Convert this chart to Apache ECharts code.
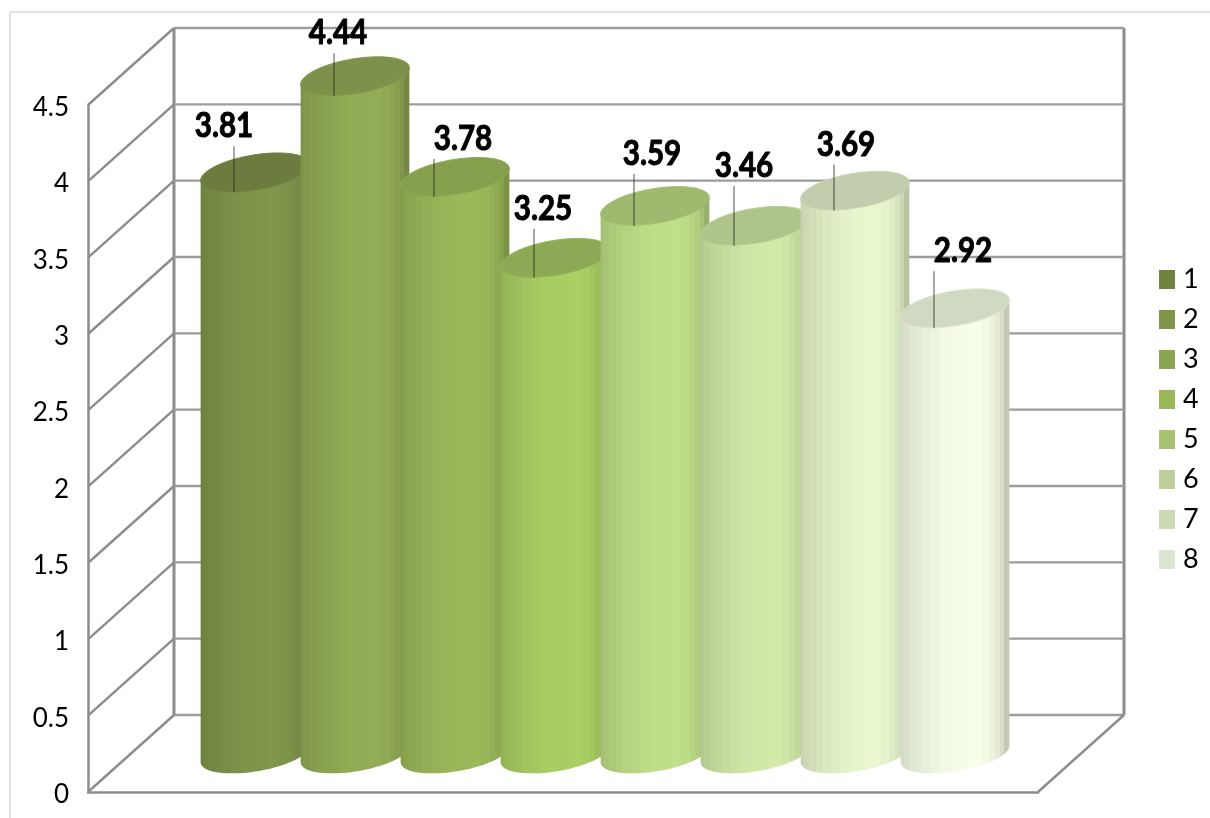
<!DOCTYPE html>
<html>
<head>
<meta charset="utf-8">
<style>html,body{margin:0;padding:0;background:#fff}#c{width:1210px;height:818px}</style>
<script src="https://cdn.jsdelivr.net/npm/echarts@6/dist/echarts.min.js"></script>
</head>
<body>
<div id="c"></div>
<script>
const categories = ['1','2','3','4','5','6','7','8'];
const values = [3.81,4.44,3.78,3.25,3.59,3.46,3.69,2.92];
const yTicks = [0,0.5,1,1.5,2,2.5,3,3.5,4,4.5];

const legendColors = ['#6f8240','#7f964a','#8ba550','#9ab858','#a8c272','#bccf9a','#ccd9b5','#dce5cf'];
const peakColors = ['#80964b','#93ad56','#9cb95a','#aad064','#c0df88','#d3eaa8','#e8f7ce','#f8ffe8'];
const capColors = ['#6b7c3e','#7c9149','#86a04e','#8ea955','#9fb96f','#afc48a','#c1cdac','#d0d9c2'];
const labelOffsetX = [-31,-17,8,-12,-3,-11,-9,8];
const labelOffsetY = [-46,-43,-38,-49,-52,-60,-46,-57];
const bandEdges = [0,.03,.08,.14,.2,.28,.36,.46,.62,.74,.82,.87,.91,.95,1];
const bandShade = [.86,.88,.9,.92,.94,.96,.98,.99,1,.98,.95,.92,.87,.79];

function shade(hex,f){
  const n=parseInt(hex.slice(1),16);
  const c=[(n>>16)&255,(n>>8)&255,n&255].map(v=>Math.min(255,Math.round(v*f)));
  return 'rgb('+c.join(',')+')';
}
function bandGradient(hex){
  const stops=[];
  bandShade.forEach((f,i)=>{
    const col=shade(hex,f);
    stops.push({offset:bandEdges[i],color:col},{offset:bandEdges[i+1],color:col});
  });
  return new echarts.graphic.LinearGradient(0,0,1,0,stops);
}

// Projected circle of a cylinder section
const U=[54.3,-7.2], V=[-3,18];
function ring(c,t){return [c[0]+U[0]*Math.cos(t)+V[0]*Math.sin(t), c[1]+U[1]*Math.cos(t)+V[1]*Math.sin(t)];}
function sample(c,a,b,n){const o=[];for(let i=0;i<=n;i++)o.push(ring(c,a+(b-a)*i/n));return o;}

function barSeries(name,i){
  return {
    name:name,type:'custom',xAxisIndex:1,yAxisIndex:1,z:10+i,clip:false,silent:true,
    itemStyle:{color:legendColors[i]},
    encode:{x:0,y:1},
    data:[[i,values[i]]],
    renderItem:function(params,api){
      const top=api.coord([api.value(0),api.value(1)]);
      const base=api.coord([api.value(0),0]);
      const t0=Math.atan2(V[0],U[0]);
      const body=[ring(top,t0+Math.PI),ring(top,t0)].concat(sample(base,t0,t0+Math.PI,40));
      const lx=top[0]-21, lbx=top[0]+labelOffsetX[i], lby=top[1]+labelOffsetY[i];
      return {type:'group',children:[
        {type:'polygon',shape:{points:body},style:{fill:bandGradient(peakColors[i])}},
        {type:'polygon',shape:{points:sample(top,0,Math.PI*2,72)},style:{fill:capColors[i],stroke:shade(capColors[i],1.06),lineWidth:1}},
        {type:'line',shape:{x1:lx,y1:lby+20,x2:lx,y2:top[1]+20},style:{stroke:'rgba(35,40,25,.8)',lineWidth:1}},
        {type:'text',x:lbx,y:lby,scaleX:.87,style:{text:values[i].toFixed(2),x:0,y:0,align:'center',verticalAlign:'middle',
          font:'bold 34px Lato',fill:'#000',stroke:'#000',lineWidth:1}}
      ]};
    }
  };
}

const chart=echarts.init(document.getElementById('c'),null,{renderer:'canvas'});
chart.setOption({
  animation:false,
  backgroundColor:'#fff',
  graphic:[{type:'polyline',silent:true,shape:{points:[[10,830],[10,12],[1220,12]]},style:{stroke:'#e2e2e2',lineWidth:2,fill:null}}],
  legend:{orient:'vertical',left:1159,top:266,padding:0,icon:'rect',itemWidth:16,itemHeight:19,itemGap:13,selectedMode:false,
    data:categories,textStyle:{fontFamily:'Lato',fontSize:27,color:'#000',padding:[0,0,0,3]}},
  tooltip:{show:false},
  grid:[
    {left:88,width:950,top:105,height:687},
    {left:205,width:800,top:67,height:687},
    {left:88,width:950,top:107.5,height:687}
  ],
  xAxis:[
    {gridIndex:0,type:'value',min:0,max:1,axisLabel:{show:false},axisTick:{show:false},splitLine:{show:false},
      axisLine:{show:true,lineStyle:{color:'#8c8c8c',width:2.5}}},
    {gridIndex:1,type:'category',data:categories,show:false},
    {gridIndex:2,type:'value',min:0,max:1,show:false}
  ],
  yAxis:[
    {gridIndex:0,type:'value',min:0,max:4.5,interval:0.5,splitLine:{show:false},axisTick:{show:false},
      axisLine:{show:true,lineStyle:{color:'#8c8c8c',width:2.5}},axisLabel:{show:false}},
    {gridIndex:1,type:'value',min:0,max:4.5,show:false},
    {gridIndex:2,type:'value',min:0,max:4.5,interval:0.5,splitLine:{show:false},axisTick:{show:false},axisLine:{show:false},
      axisLabel:{margin:19,fontFamily:'Lato',fontSize:26,color:'#000'}}
  ],
  series:[{
    type:'custom',xAxisIndex:0,yAxisIndex:0,z:1,clip:false,silent:true,
    data:yTicks.map(v=>[0,v]),
    renderItem:function(params,api){
      const v=api.value(1), p=api.coord([0,v]), end=api.coord([1,v]);
      const dx=86, dy=-77;
      const kids=[
        {type:'polyline',shape:{points:[p,[p[0]+dx,p[1]+dy]]},style:{stroke:'#8c8c8c',lineWidth:2.4,fill:null}},
        {type:'line',shape:{x1:p[0]+dx,y1:p[1]+dy,x2:end[0]+dx,y2:end[1]+dy},style:{stroke:'#9c9c9c',lineWidth:2.4}}
      ];
      if(v===0){
        const t=api.coord([0,yTicks[yTicks.length-1]]), te=api.coord([1,yTicks[yTicks.length-1]]);
        kids.push(
          {type:'line',shape:{x1:p[0]+dx,y1:p[1]+dy,x2:t[0]+dx,y2:t[1]+dy},style:{stroke:'#8c8c8c',lineWidth:3}},
          {type:'line',shape:{x1:end[0]+dx,y1:end[1]+dy,x2:te[0]+dx,y2:te[1]+dy},style:{stroke:'#8c8c8c',lineWidth:3}},
          {type:'line',shape:{x1:end[0],y1:end[1],x2:end[0]+dx,y2:end[1]+dy},style:{stroke:'#8c8c8c',lineWidth:2.4}}
        );
      }
      return {type:'group',children:kids};
    }
  }].concat(categories.map(barSeries))
});
</script>
</body>
</html>
